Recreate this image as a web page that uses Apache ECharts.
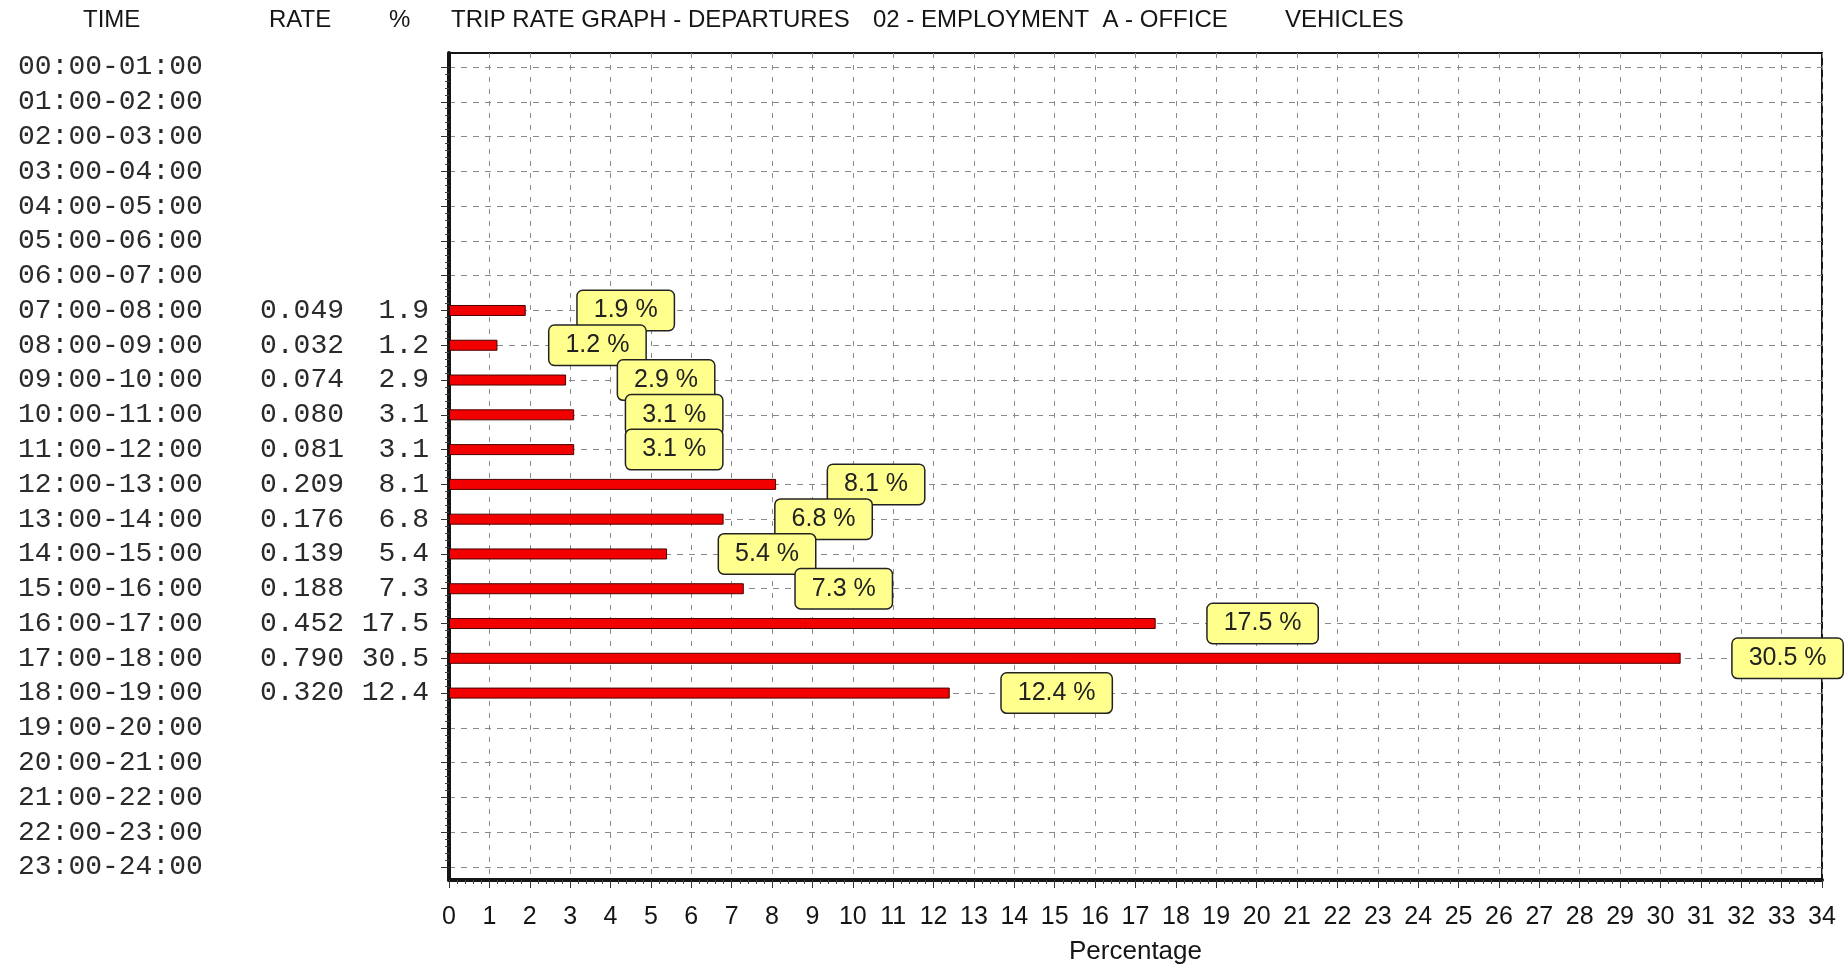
<!DOCTYPE html>
<html>
<head>
<meta charset="utf-8">
<title>Trip rate graph - departures</title>
<script src="https://cdn.jsdelivr.net/npm/echarts@6/dist/echarts.min.js"></script>
<style>
  html, body { margin: 0; padding: 0; background: #fff; }
  #chart { width: 1848px; height: 967px; }
</style>
</head>
<body>
<div id="chart"></div>
<script>
// Hourly time periods (rows of the table / bar chart)
const periods = [
  '00:00-01:00', '01:00-02:00', '02:00-03:00', '03:00-04:00',
  '04:00-05:00', '05:00-06:00', '06:00-07:00', '07:00-08:00',
  '08:00-09:00', '09:00-10:00', '10:00-11:00', '11:00-12:00',
  '12:00-13:00', '13:00-14:00', '14:00-15:00', '15:00-16:00',
  '16:00-17:00', '17:00-18:00', '18:00-19:00', '19:00-20:00',
  '20:00-21:00', '21:00-22:00', '22:00-23:00', '23:00-24:00'
];

// Trip rate per period (blank where no survey data)
const rates = [
  null, null, null, null, null, null, null, 0.049,
  0.032, 0.074, 0.080, 0.081, 0.209, 0.176, 0.139, 0.188,
  0.452, 0.790, 0.320, null, null, null, null, null
];

// Percentage of daily departures per period
const percents = [
  null, null, null, null, null, null, null, 1.9,
  1.2, 2.9, 3.1, 3.1, 8.1, 6.8, 5.4, 7.3,
  17.5, 30.5, 12.4, null, null, null, null, null
];

// Percentage axis range
const xMin = 0;
const xMax = 34;

// Header texts
const headers = ['TIME', 'RATE', '%'];
const titleParts = ['TRIP RATE GRAPH - DEPARTURES', '02 - EMPLOYMENT  A - OFFICE', 'VEHICLES'];
const axisName = 'Percentage';

const SANS = '"Liberation Sans", Arial, sans-serif';
const MONO = '"Liberation Mono", "Courier New", monospace';
const INK = '#151515';

const chart = echarts.init(document.getElementById('chart'), null, { renderer: 'canvas' });

const headerStyle = { fontFamily: SANS, fontSize: 24, fontWeight: 'normal', color: INK };
const headerLefts = [83, 269, 389];
const titleLefts = [451, 873, 1285];

const titles = [];
headers.forEach((t, i) => titles.push({ text: t, left: headerLefts[i], top: 8, padding: 0, textStyle: headerStyle }));
titleParts.forEach((t, i) => titles.push({ text: t, left: titleLefts[i], top: 8, padding: 0, textStyle: headerStyle }));

const fmtRate = (v, i) => (rates[i] == null ? '' : rates[i].toFixed(3));
const fmtPct = (v, i) => (percents[i] == null ? '' : percents[i].toFixed(1));

const tableAxis = (margin, align, formatter) => ({
  type: 'category',
  gridIndex: 1,
  position: 'left',
  offset: 0,
  data: periods,
  inverse: true,
  boundaryGap: false,
  axisLine: { show: false },
  axisTick: { show: false },
  splitLine: { show: false },
  axisLabel: {
    interval: 0,
    margin: margin,
    align: align,
    fontFamily: MONO,
    fontSize: 28,
    color: '#2a2a2a',
    formatter: formatter
  }
});

const option = {
  backgroundColor: '#ffffff',
  animation: false,
  title: titles,
  grid: [
    // outer frame: plot border, percentage axis, thick left axis line
    { left: 449, right: 26, top: 53, bottom: 87, show: true, borderColor: INK, borderWidth: 2,
      backgroundColor: 'transparent', outerBoundsMode: 'none' },
    // rows: first and last period sit on the dashed lines just inside the frame
    { left: 449, right: 26, top: 67, bottom: 100, outerBoundsMode: 'none' }
  ],
  xAxis: [
    {
      type: 'value',
      gridIndex: 0,
      min: xMin,
      max: xMax,
      interval: 1,
      name: axisName,
      nameLocation: 'middle',
      nameGap: 59,
      nameTextStyle: { fontFamily: SANS, fontSize: 26, color: INK },
      axisLine: { show: true, onZero: false, lineStyle: { color: INK, width: 4 } },
      axisTick: { show: true, inside: false, length: 8, lineStyle: { color: '#333', width: 1 } },
      minorTick: { show: true, splitNumber: 5, length: 4, lineStyle: { color: '#444', width: 1 } },
      axisLabel: { margin: 25, fontFamily: SANS, fontSize: 25, color: INK, showMinLabel: true, showMaxLabel: true },
      splitLine: { show: true, lineStyle: { color: '#8a8a8a', width: 1, type: [5, 7] } },
      minorSplitLine: { show: false }
    },
    {
      type: 'value',
      gridIndex: 1,
      min: xMin,
      max: xMax,
      interval: 1,
      show: false
    }
  ],
  yAxis: [
    {
      type: 'value',
      gridIndex: 0,
      min: 0,
      max: 1,
      axisLine: { show: true, onZero: false, lineStyle: { color: INK, width: 4 } },
      axisTick: { show: false },
      axisLabel: { show: false },
      splitLine: { show: false }
    },
    tableAxis(431, 'left', (v) => v),
    tableAxis(105, 'right', fmtRate),
    tableAxis(20, 'right', fmtPct),
    {
      type: 'value',
      gridIndex: 1,
      position: 'left',
      offset: 0,
      min: 0,
      max: periods.length - 1,
      interval: 1,
      inverse: true,
      axisLine: { show: false },
      axisLabel: { show: false },
      axisTick: { show: true, inside: false, length: 8, lineStyle: { color: '#333', width: 1 } },
      minorTick: { show: true, splitNumber: 5, length: 4, lineStyle: { color: '#444', width: 1 } },
      splitLine: { show: true, lineStyle: { color: '#8a8a8a', width: 1, type: [6, 6] } }
    }
  ],
  series: [
    {
      type: 'bar',
      xAxisIndex: 1,
      yAxisIndex: 1,
      data: percents,
      barWidth: 11,
      itemStyle: { color: '#f20000', borderColor: '#4a0000', borderWidth: 1 },
      label: {
        show: true,
        position: 'right',
        distance: 52,
        formatter: (p) => (p.value == null ? '' : p.value.toFixed(1) + ' %'),
        fontFamily: SANS,
        fontSize: 25,
        lineHeight: 27,
        color: '#222',
        backgroundColor: '#ffff8e',
        borderColor: '#222',
        borderWidth: 1.5,
        borderRadius: 5,
        padding: [6, 16, 6, 16]
      },
      z: 3
    }
  ]
};

chart.setOption(option);
</script>
</body>
</html>
